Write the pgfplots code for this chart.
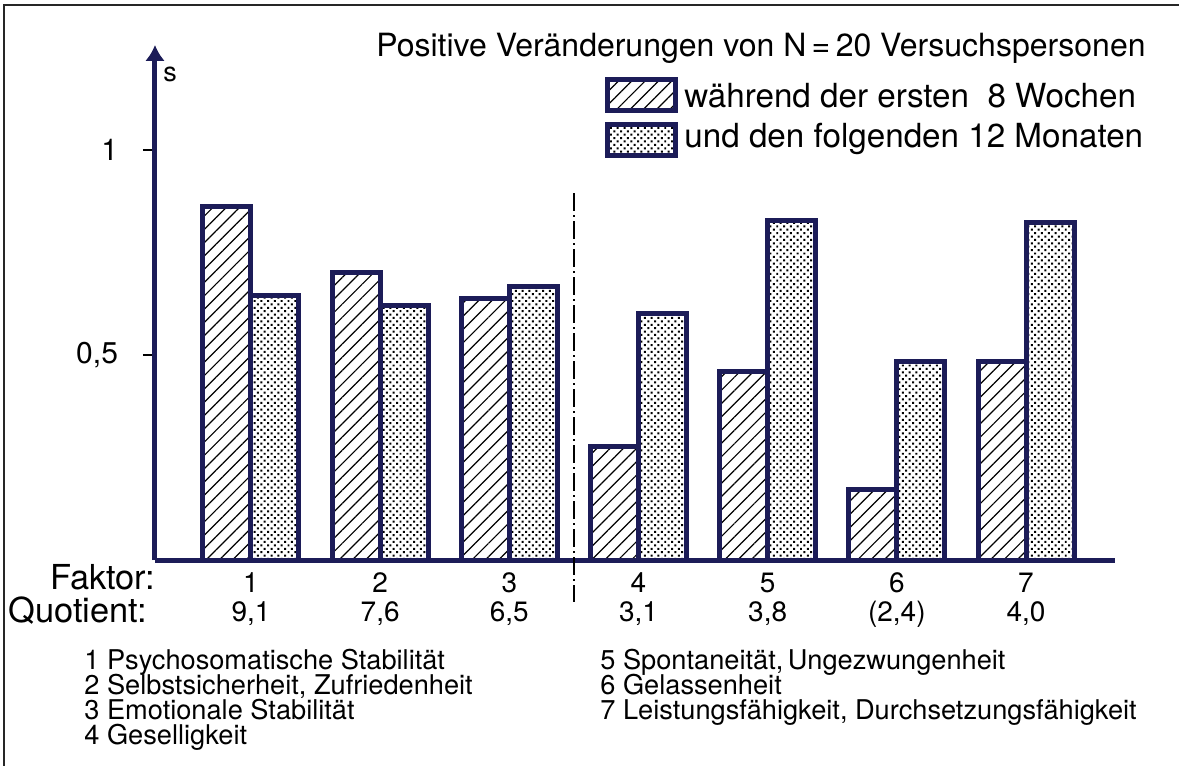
\documentclass[border=0pt]{standalone}
\usepackage{fontspec}
\setmainfont{TeX Gyre Heros}
\usepackage{pgfplots}
\pgfplotsset{compat=1.18}
\usetikzlibrary{patterns,patterns.meta,arrows.meta}
\definecolor{navy}{RGB}{28,28,88}
\tikzset{
  hatch/.style={pattern={Lines[angle=45,distance=4.7pt,line width=0.6pt]}},
  dotfill/.style={pattern={Dots[angle=45,distance=2.4pt,radius=0.7pt]}},
}
\begin{document}
\begin{tikzpicture}
\begin{axis}[
  scale only axis, width=480pt, height=257.5pt,
  xmin=0.257, xmax=7.689, ymin=0, ymax=1.256,
  axis lines*=left,
  axis line style={navy, line width=2.5pt},
  y axis line style={-{Latex[length=8pt,width=10pt]}},
  ybar=0pt, bar width=24pt,
  xtick={1,...,7},
  xticklabels={{1\\[-1.5pt]9,1},{2\\[-1.5pt]7,6},{3\\[-1.5pt]6,5},{4\\[-1.5pt]3,1},{5\\[-1.5pt]3,8},{6\\[-1.5pt](2,4)},{7\\[-1.5pt]4,0}},
  x tick style={draw=none},
  xticklabel style={align=center, font=\fontsize{14}{16}\selectfont, yshift=3pt},
  ytick={0.5,1}, yticklabels={{0,5},1},
  y tick style={black, line width=0.8pt},
  tick align=outside, major tick length=6pt,
  yticklabel style={font=\fontsize{15}{18}\selectfont, xshift=-9pt},
  clip=false,
]
\addplot[draw=navy, line width=2.5pt, hatch] coordinates {(1,0.861) (2,0.702) (3,0.637) (4,0.276) (5,0.459) (6,0.173) (7,0.485)};
\addplot[draw=navy, line width=2.5pt, dotfill] coordinates {(1,0.644) (2,0.620) (3,0.668) (4,0.600) (5,0.827) (6,0.485) (7,0.822)};
\draw[black, line width=1pt, dash pattern=on 9pt off 2pt on 1pt off 2pt] (axis cs:3.5,0.895) -- (axis cs:3.5,-0.102);
\end{axis}
\begin{scope}[x=0.5pt, y=-0.5pt, shift={(-77.5pt,280pt)}]
  \node[anchor=base east, inner sep=0pt, font=\fontsize{16}{18}\selectfont] at (1146,57) {Positive Veränderungen von N\,=\,20 Versuchspersonen};
  \draw[navy, line width=2.5pt, hatch] (607,80) rectangle (675,111);
  \draw[navy, line width=2.5pt, dotfill] (607,125) rectangle (675,156);
  \node[anchor=base west, inner sep=0pt, font=\fontsize{16.6}{20}\selectfont] at (684,108) {während der ersten\ \ 8 Wochen};
  \node[anchor=base west, inner sep=0pt, font=\fontsize{16.6}{20}\selectfont] at (684,148) {und den folgenden 12 Monaten};
  \node[anchor=base west, inner sep=0pt, font=\fontsize{13.5}{16}\selectfont] at (163,82) {s};
  \node[anchor=base west, inner sep=0pt, font=\fontsize{17.2}{20}\selectfont] at (50,590) {Faktor:};
  \node[anchor=base west, inner sep=0pt, font=\fontsize{17.2}{20}\selectfont] at (8,622) {Quotient:};
  \begin{scope}[every node/.style={anchor=base west, inner sep=0pt, font=\fontsize{13.6}{15}\selectfont}]
    \node at (84,669) {1 Psychosomatische Stabilität};
    \node at (84,694) {2 Selbstsicherheit, Zufriedenheit};
    \node at (84,719) {3 Emotionale Stabilität};
    \node at (84,744) {4 Geselligkeit};
    \node at (600,669) {5 Spontaneität,\,Ungezwungenheit};
    \node at (600,694) {6 Gelassenheit};
    \node at (600,719) {7 Leistungsfähigkeit, Durchsetzungsfähigkeit};
  \end{scope}
  \draw[line width=1pt, black!85] (4,766) -- (4,5) -- (1179,5);
  \pgfresetboundingbox
  \path[use as bounding box] (0,0) rectangle (1179,766);
\end{scope}
\end{tikzpicture}
\end{document}
